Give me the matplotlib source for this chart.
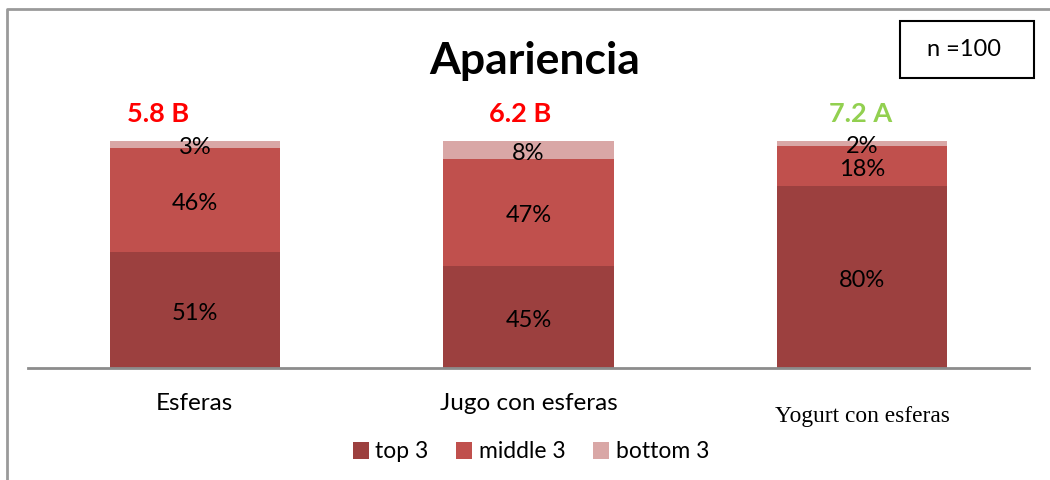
import matplotlib.pyplot as plt
import numpy as np
from matplotlib.patches import Rectangle
from matplotlib.lines import Line2D

# data
categories = ['Esferas', 'Jugo con esferas', 'Yogurt con esferas']
top3 = [51, 45, 80]
middle3 = [46, 47, 18]
bottom3 = [3, 8, 2]
scores = ['5.8 B', '6.2 B', '7.2 A']
score_colors = ['#FF0000', '#FF0000', '#92D050']
series_names = ['top 3', 'middle 3', 'bottom 3']
series_colors = ['#9C403F', '#C0504D', '#D9A7A6']

plt.rcParams['font.family'] = ['Lato', 'DejaVu Sans']

fig = plt.figure(figsize=(10.5, 4.8), dpi=100)
ax = fig.add_axes([28 / 1050, 1 - 368 / 480, 1001 / 1050, 227 / 480])

x = np.arange(len(categories))
bottom = np.zeros(len(categories))
for vals, name, col in zip([top3, middle3, bottom3], series_names, series_colors):
    bars = ax.bar(x, vals, width=0.51, bottom=bottom, color=col, label=name)
    for xi, b, v in zip(x, bottom, vals):
        ax.text(xi, b + v / 2 - 1.5, f'{v}%', ha='center', va='center', fontsize=17, color='black')
    bottom += np.array(vals)

ax.set_xlim(-0.5, 2.5)
ax.set_ylim(0, 100)
for s in ['top', 'left', 'right']:
    ax.spines[s].set_visible(False)
ax.spines['bottom'].set_color('#8C8C8C')
ax.spines['bottom'].set_linewidth(2)
ax.set_yticks([])
ax.set_xticks([])

# category labels (last one appears in a serif face in the original)
label_y = [-15.5, -15.5, -21.5]
label_font = [['Lato'], ['Lato'], ['Liberation Serif']]
label_size = [17.5, 17.5, 16.8]
for xi, name, ly, fam, fs in zip(x, categories, label_y, label_font, label_size):
    ax.text(xi, ly, name, ha='center', va='center', family=fam, fontsize=fs, clip_on=False)

# score labels above bars
score_dx = [-0.11, -0.025, -0.005]
for xi, s, c, dx in zip(x, scores, score_colors, score_dx):
    ax.text(xi + dx, 112, s, ha='center', va='center', color=c, fontsize=19.5,
            fontweight='bold', clip_on=False)

fig.text(535 / 1050, 1 - 61 / 480, 'Apariencia', ha='center', va='center',
         fontsize=32, fontweight='bold')

# n box
fig.patches.append(Rectangle((900 / 1050, 1 - 78 / 480), 134 / 1050, 57 / 480,
                             transform=fig.transFigure, fill=False,
                             edgecolor='black', linewidth=1.5))
fig.text(964 / 1050, 1 - 50 / 480, 'n =100', ha='center', va='center', fontsize=17)

# outer chart frame (top and left)
fig.add_artist(Line2D([7 / 1050, 7 / 1050, 1], [0, 1 - 9 / 480, 1 - 9 / 480],
                      transform=fig.transFigure, color='#9A9A9A', linewidth=2))

fig.legend(loc='center', bbox_to_anchor=(531 / 1050, 1 - 452 / 480), ncol=3,
           frameon=False, fontsize=16.5, handlelength=0.7, handleheight=0.7,
           handletextpad=0.3, columnspacing=1.2)

fig.savefig('out.png', dpi=100)
